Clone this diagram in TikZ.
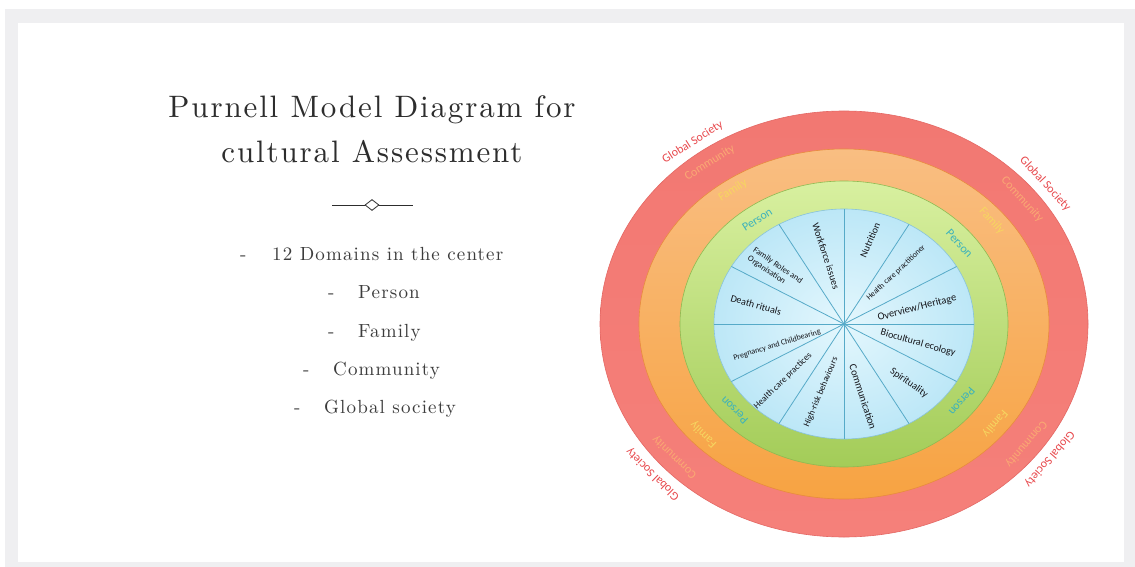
\documentclass[tikz,border=0pt]{standalone}
\usepackage{fontspec}
\usetikzlibrary{positioning, shapes.geometric}
\newfontfamily\calibri{Carlito}
\newfontfamily\slideserif{lmroman10-regular.otf}

\definecolor{slidegray}{RGB}{239,239,241}
\definecolor{inktitle}{RGB}{45,45,45}
\definecolor{inkbody}{RGB}{60,60,60}
\definecolor{redtop}{RGB}{242,120,114}
\definecolor{redbot}{RGB}{245,128,122}
\definecolor{redrim}{RGB}{228,104,100}
\definecolor{orangetop}{RGB}{249,190,130}
\definecolor{orangebot}{RGB}{247,163,66}
\definecolor{orangerim}{RGB}{232,140,62}
\definecolor{greentop}{RGB}{216,240,160}
\definecolor{greenbot}{RGB}{163,204,88}
\definecolor{greenrim}{RGB}{142,186,82}
\definecolor{bluein}{RGB}{228,247,253}
\definecolor{blueout}{RGB}{188,231,247}
\definecolor{spokeblue}{RGB}{86,170,200}
\definecolor{txtglobal}{RGB}{232,72,76}
\definecolor{txtcommunity}{RGB}{250,168,115}
\definecolor{txtfamily}{RGB}{246,214,96}
\definecolor{txtperson}{RGB}{60,178,188}
\definecolor{txtdomain}{RGB}{20,20,25}

\begin{document}
\begin{tikzpicture}[x=1pt, y=-1pt,
    heading/.style={text=inktitle, font=\slideserif\addfontfeatures{LetterSpace=6}\fontsize{31}{36}\selectfont, anchor=base, inner sep=0pt},
    item/.style={text=inkbody, font=\slideserif\addfontfeatures{LetterSpace=6}\fontsize{19}{23}\selectfont, anchor=base west, inner sep=0pt},
    area/.style={text=txtdomain, font=\calibri\fontsize{10}{11}\selectfont, inner sep=0pt},
    ringlabel/.style={font=\calibri\fontsize{12}{14}\selectfont, inner sep=0pt},
    spoke/.style={draw=spokeblue, line width=0.8pt}]
    \useasboundingbox (0,0) rectangle (1135,567);
    \fill[white] (0,0) rectangle (1135,567);
    \fill[slidegray] (5,9) rectangle (1135,567);
    \fill[white] (18,23) rectangle (1124,562);

    % title and divider
    \node[heading] (title1) at (372,118) {Purnell Model Diagram for};
    \node[heading] (title2) at (372,162) {cultural Assessment};
    \coordinate (divl) at (332,205);
    \coordinate (divr) at (413,205);
    \node[diamond, draw=inktitle, fill=white, line width=0.8pt, inner sep=0pt,
          minimum width=14pt, minimum height=11pt] (gem) at (372,205) {};
    \draw[inktitle, line width=0.8pt] (divl) -- (gem) -- (divr);

    % bullet list
    \node[item] (domains) at (240,260) {\makebox[32pt][l]{-}12 Domains in the center};
    \node[item] (person) at (328,298) {\makebox[30pt][l]{-}Person};
    \node[item] (family) at (328,337) {\makebox[30pt][l]{-}Family};
    \node[item] (community) at (303,375) {\makebox[30pt][l]{-}Community};
    \node[item] (global) at (294,413) {\makebox[30pt][l]{-}Global society};

    % rings
    \begin{scope}[shift={(844,324)}, x=244pt, y=213pt]
        \path[draw=redrim, line width=0.6pt, top color=redtop, bottom color=redbot]
            (0,0) ellipse [x radius=244pt, y radius=213pt];
        \path[draw=orangerim, line width=0.6pt, top color=orangetop, bottom color=orangebot]
            (0,0) ellipse [x radius=205pt, y radius=175pt];
        \path[draw=greenrim, line width=0.6pt, top color=greentop, bottom color=greenbot]
            (0,0) ellipse [x radius=164pt, y radius=143pt];
        \path[draw=spokeblue!70, line width=0.6pt, inner color=bluein, outer color=blueout]
            (0,0) ellipse [x radius=130pt, y radius=115pt];

        \foreach \t/\rot [count=\q] in {126/32.4, 38.6/-47.5, 222/135.9, -37/-130.8}
            \foreach \r/\txt/\col [count=\k] in {1.055/Global Society/txtglobal,
                    0.935/Community/txtcommunity, 0.775/Family/txtfamily, 0.605/Person/txtperson}
                \node[ringlabel, text=\col, rotate=\rot] (band\q\k) at (\t:\r) {\txt};
    \end{scope}

    % twelve domains
    \begin{scope}[shift={(844,324)}, x=130pt, y=115pt]
        \coordinate (hub) at (0,0);
        \foreach \a in {0,30,...,330} {
            \coordinate (rim\a) at (\a:1);
            \draw[spoke] (hub) -- (rim\a);
        }
        \fill[spokeblue] (hub) circle (1.5pt);
    \end{scope}

    \node[area, rotate=-72] (workforce) at (826,256) {Workforce issues};
    \node[area, rotate=67] (nutrition) at (870,240) {Nutrition};
    \node[area, rotate=43, font=\calibri\fontsize{8}{9}\selectfont] (practitioner) at (896,273) {Health care practitioner};
    \node[area, rotate=14.5, font=\calibri\fontsize{10.5}{11}\selectfont] (heritage) at (917,308) {Overview/Heritage};
    \node[area, rotate=-16] (ecology) at (918,343) {Biocultural ecology};
    \node[area, rotate=-35] (spirituality) at (909,383) {Spirituality};
    \node[area, rotate=-72, font=\calibri\fontsize{10.5}{11}\selectfont] (communication) at (863,397) {Communication};
    \node[area, rotate=67, font=\calibri\fontsize{9}{10}\selectfont] (highrisk) at (821,392) {High-risk behaviours};
    \node[area, rotate=44, font=\calibri\fontsize{9}{10}\selectfont] (practices) at (783,381) {Health care practices};
    \node[area, rotate=17, font=\calibri\fontsize{8}{9}\selectfont] (pregnancy) at (777,345) {Pregnancy and Childbearing};
    \node[area, rotate=-16] (death) at (756,305) {Death rituals};
    \node[area, rotate=-34, align=left, font=\calibri\fontsize{8.5}{10}\selectfont] (roles) at (775,270) {Family Roles and\\Organisation};
\end{tikzpicture}
\end{document}
